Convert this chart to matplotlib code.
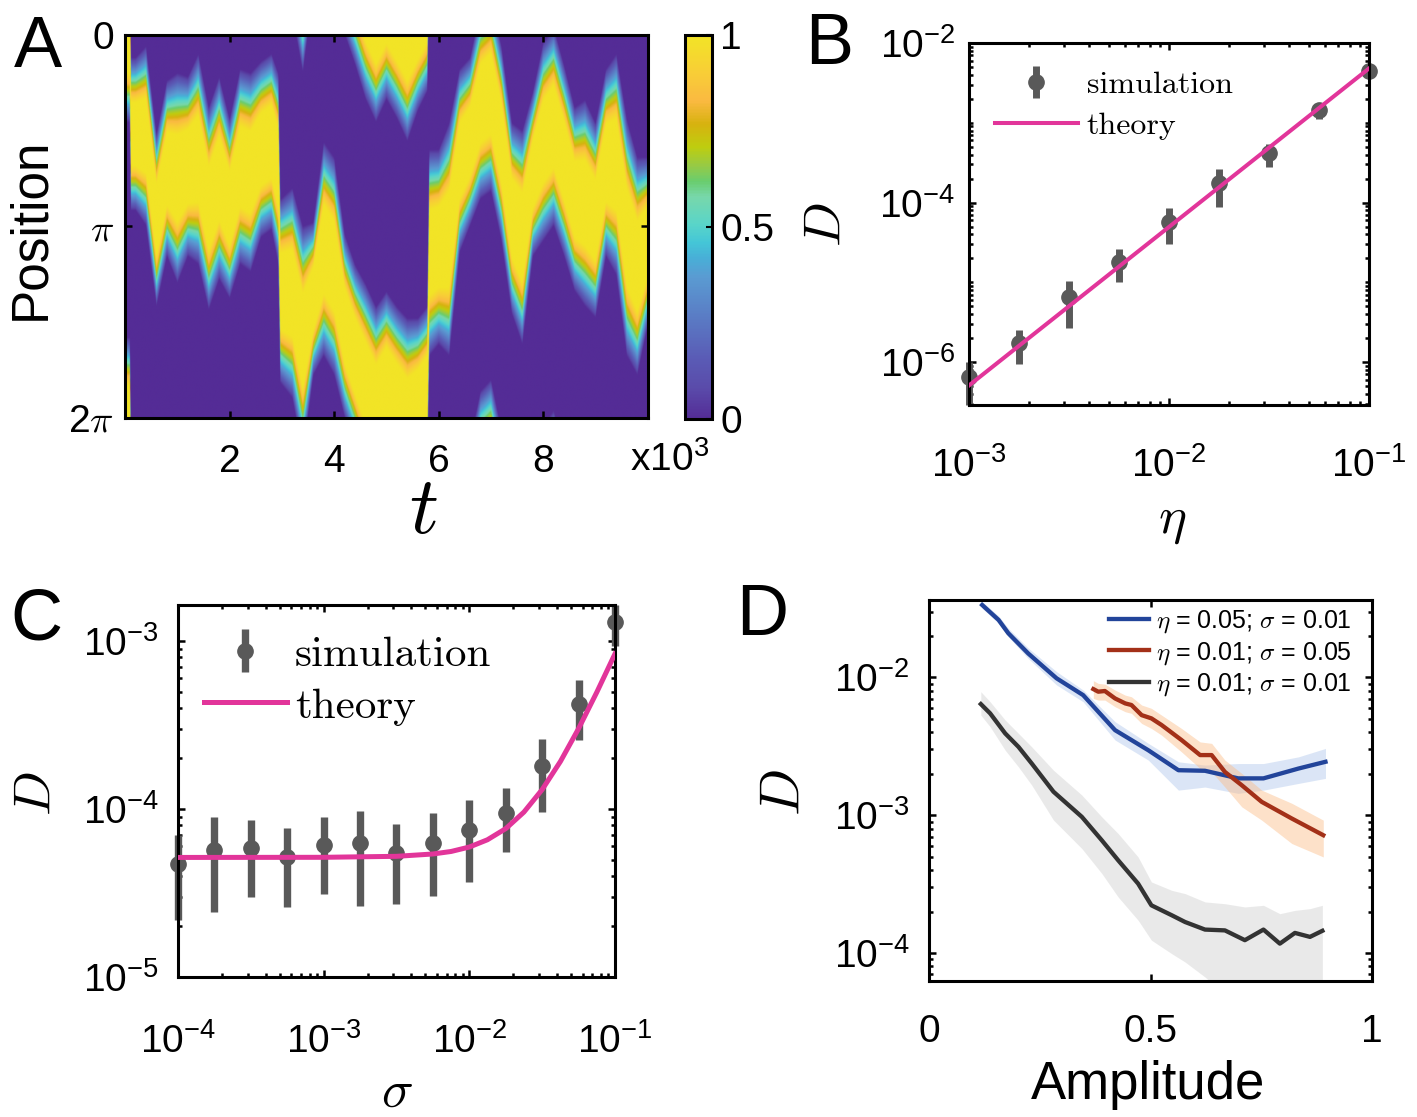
import numpy as np
import matplotlib
matplotlib.use('Agg')
import matplotlib.pyplot as plt
from matplotlib.colors import LinearSegmentedColormap
from matplotlib.ticker import FixedLocator, LogLocator, NullFormatter

plt.rcParams['font.family'] = ['Liberation Sans', 'DejaVu Sans']
plt.rcParams['font.size'] = 28

# ---------------- data ----------------
# panel A: edges of the activity bump (fraction of 2*pi, 0 at top) vs time (x10^3)
bump_t = [0.0, 0.09, 0.11, 0.2, 0.4, 0.6, 0.8, 1.0, 1.2, 1.4, 1.6, 1.8, 2.0, 2.2, 2.4,
          2.6, 2.8, 2.93, 2.97, 3.2, 3.4, 3.6, 3.8, 4.0, 4.2, 4.4, 4.6, 4.8, 5.0, 5.2,
          5.4, 5.6, 5.78, 5.82, 6.0, 6.2, 6.4, 6.6, 6.8, 7.0, 7.2, 7.4, 7.6, 7.8, 8.0,
          8.2, 8.4, 8.6, 8.8, 9.0, 9.2, 9.4, 9.6, 9.8, 10.0]
bump_top = [-0.21, -0.21, 0.06, 0.06, 0.03, 0.26, 0.12, 0.10, 0.11, 0.05, 0.19, 0.11, 0.22,
            0.09, 0.10, 0.07, 0.05, 0.10, 0.43, 0.40, 0.50, 0.49, 0.28, 0.32, 0.52, 0.60,
            0.65, 0.71, 0.67, 0.71, 0.74, 0.74, 0.71, 0.30, 0.30, 0.23, 0.09, 0.06, -0.07,
            -0.10, 0.03, 0.23, 0.25, 0.15, 0.02, -0.02, 0.08, 0.19, 0.17, 0.23, 0.09, 0.05,
            0.22, 0.32, 0.32]
bump_bot = [0.23, 0.23, 0.46, 0.46, 0.50, 0.71, 0.58, 0.65, 0.58, 0.60, 0.72, 0.64, 0.69,
            0.60, 0.62, 0.53, 0.51, 0.60, 0.91, 0.95, 1.10, 0.89, 0.84, 0.89, 1.00, 1.08,
            1.17, 1.23, 1.17, 1.22, 1.28, 1.20, 1.15, 0.84, 0.81, 0.84, 0.57, 0.50, 0.43,
            0.41, 0.54, 0.73, 0.81, 0.58, 0.54, 0.50, 0.58, 0.67, 0.71, 0.74, 0.58, 0.63,
            0.84, 0.89, 0.76]

# panel B
eta = [1e-3, 1.78e-3, 3.16e-3, 5.62e-3, 1e-2, 1.78e-2, 3.16e-2, 5.62e-2, 1e-1]
D_eta = [6.5e-7, 1.74e-6, 6.5e-6, 1.82e-5, 5.75e-5, 1.78e-4, 4.2e-4, 1.45e-3, 4.5e-3]
D_eta_hi = [1.0e-6, 2.5e-6, 1.05e-5, 2.6e-5, 8.5e-5, 2.6e-4, 5.4e-4, 1.7e-3, 5.0e-3]
D_eta_lo = [2.9e-7, 9.5e-7, 2.7e-6, 1.02e-5, 3.0e-5, 8.9e-5, 2.8e-4, 1.12e-3, 4.0e-3]
theory_eta = [1e-3, 1e-1]
theory_D_eta = [5.1e-7, 4.8e-3]

# panel C
sigma = [1e-4, 1.78e-4, 3.16e-4, 5.62e-4, 1e-3, 1.78e-3, 3.16e-3, 5.62e-3, 1e-2,
         1.78e-2, 3.16e-2, 5.62e-2, 1e-1]
D_sig = [4.68e-5, 5.71e-5, 5.85e-5, 5.15e-5, 6.07e-5, 6.24e-5, 5.47e-5, 6.24e-5,
         7.53e-5, 9.42e-5, 1.80e-4, 4.23e-4, 1.30e-3]
D_sig_hi = [7.03e-5, 8.99e-5, 8.57e-5, 7.71e-5, 8.91e-5, 9.68e-5, 8.13e-5, 9.42e-5,
            1.13e-4, 1.33e-4, 2.61e-4, 5.85e-4, 1.64e-3]
D_sig_lo = [2.19e-5, 2.43e-5, 3.00e-5, 2.61e-5, 3.13e-5, 2.65e-5, 2.72e-5, 3.04e-5,
            3.69e-5, 5.56e-5, 9.64e-5, 2.58e-4, 9.33e-4]
theory_sigma = [1e-4, 1e-3, 3.16e-3, 5.62e-3, 7.5e-3, 1e-2, 1.33e-2, 1.78e-2, 2.37e-2,
                3.16e-2, 4.22e-2, 5.62e-2, 7.5e-2, 1e-1]
theory_D_sig = [5.15e-5, 5.16e-5, 5.23e-5, 5.40e-5, 5.59e-5, 5.94e-5, 6.56e-5, 7.65e-5,
                9.59e-5, 1.305e-4, 1.92e-4, 3.01e-4, 4.96e-4, 8.4e-4]

# panel D
blue_amp = [0.120, 0.157, 0.179, 0.224, 0.288, 0.348, 0.420, 0.495, 0.563, 0.623, 0.698,
            0.755, 0.834, 0.895]
blue_D = [3.35e-2, 2.61e-2, 2.09e-2, 1.49e-2, 9.84e-3, 7.43e-3, 4.14e-3, 2.96e-3, 2.12e-3,
          2.10e-3, 1.85e-3, 1.85e-3, 2.18e-3, 2.44e-3]
blue_hi = [3.54e-2, 2.79e-2, 2.27e-2, 1.63e-2, 1.10e-2, 8.09e-3, 4.77e-3, 3.32e-3, 2.44e-3,
           2.31e-3, 2.37e-3, 2.37e-3, 2.65e-3, 3.05e-3]
blue_lo = [3.17e-2, 2.47e-2, 1.97e-2, 1.37e-2, 8.80e-3, 6.65e-3, 3.51e-3, 2.51e-3, 1.52e-3,
           1.60e-3, 1.44e-3, 1.52e-3, 1.70e-3, 1.85e-3]

red_amp = [0.371, 0.382, 0.397, 0.420, 0.443, 0.457, 0.480, 0.502, 0.525, 0.570, 0.612,
           0.638, 0.668, 0.706, 0.751, 0.819, 0.890]
red_D = [8.22e-3, 7.87e-3, 7.96e-3, 7.03e-3, 6.47e-3, 6.30e-3, 5.32e-3, 5.04e-3, 4.51e-3,
         3.51e-3, 2.73e-3, 2.73e-3, 2.06e-3, 1.65e-3, 1.25e-3, 9.46e-4, 7.16e-4]
red_hi = [9.46e-3, 9.04e-3, 8.93e-3, 8.09e-3, 7.43e-3, 7.23e-3, 6.30e-3, 5.96e-3, 5.32e-3,
          4.26e-3, 3.40e-3, 3.32e-3, 2.51e-3, 2.01e-3, 1.52e-3, 1.22e-3, 9.21e-4]
red_lo = [7.03e-3, 6.84e-3, 6.84e-3, 6.12e-3, 5.63e-3, 5.48e-3, 4.63e-3, 4.26e-3, 3.81e-3,
          2.88e-3, 2.18e-3, 2.06e-3, 1.60e-3, 1.15e-3, 9.21e-4, 6.23e-4, 4.98e-4]

black_amp = [0.117, 0.138, 0.172, 0.202, 0.232, 0.281, 0.345, 0.390, 0.427, 0.472, 0.502,
             0.548, 0.578, 0.623, 0.668, 0.713, 0.755, 0.792, 0.826, 0.860, 0.888]
black_D = [6.40e-3, 5.48e-3, 3.92e-3, 3.13e-3, 2.37e-3, 1.48e-3, 9.73e-4, 6.58e-4, 4.71e-4,
           3.19e-4, 2.22e-4, 1.88e-4, 1.68e-4, 1.48e-4, 1.46e-4, 1.24e-4, 1.48e-4, 1.17e-4,
           1.40e-4, 1.31e-4, 1.45e-4]
black_hi = [7.87e-3, 6.65e-3, 4.90e-3, 3.92e-3, 3.13e-3, 2.12e-3, 1.40e-3, 9.73e-4, 7.36e-4,
            4.98e-4, 3.28e-4, 2.85e-4, 2.70e-4, 2.35e-4, 2.28e-4, 2.16e-4, 2.22e-4, 1.93e-4,
            2.04e-4, 2.10e-4, 2.22e-4]
black_lo = [5.32e-3, 4.38e-3, 2.96e-3, 2.24e-3, 1.65e-3, 9.21e-4, 5.73e-4, 3.78e-4, 2.55e-4,
            1.73e-4, 1.24e-4, 9.89e-5, 8.61e-5, 6.70e-5, 5.0e-5, 5.0e-5, 5.0e-5, 5.0e-5,
            5.0e-5, 5.0e-5, 5.0e-5]

# parula-like colour map sampled from the colour bar
parula = LinearSegmentedColormap.from_list('parula_like', [
    (0.00, (84/255, 44/255, 150/255)), (0.08, (90/255, 75/255, 170/255)),
    (0.16, (90/255, 92/255, 182/255)), (0.27, (90/255, 125/255, 197/255)),
    (0.37, (90/255, 155/255, 210/255)), (0.42, (72/255, 175/255, 215/255)),
    (0.46, (68/255, 198/255, 215/255)), (0.51, (90/255, 213/255, 200/255)),
    (0.58, (120/255, 215/255, 170/255)), (0.62, (105/255, 205/255, 110/255)),
    (0.66, (150/255, 202/255, 70/255)), (0.71, (190/255, 205/255, 15/255)),
    (0.77, (215/255, 178/255, 15/255)), (0.83, (250/255, 185/255, 65/255)),
    (0.90, (248/255, 205/255, 55/255)), (1.00, (242/255, 228/255, 38/255))])

gray = '#595959'
pink = '#e2359a'

W, H = 1417, 1117
fig = plt.figure(figsize=(W/100, H/100), dpi=100)


def box(l, t, r, b):
    return [l/W, 1 - b/H, (r-l)/W, (b-t)/H]


def style(ax):
    for s in ax.spines.values():
        s.set_linewidth(2.2)
    ax.tick_params(which='both', direction='in', top=True, right=True, width=1.8)
    ax.tick_params(which='major', length=5)
    ax.tick_params(which='minor', length=3)


def unclip(eb):
    arts = [eb.lines[0]] + list(eb.lines[2])
    for art in arts:
        art.set_clip_on(False)


# ---------------- A ----------------
axA = fig.add_axes(box(125, 35, 648, 418))
tt = np.linspace(0, 10, 1400)
top = np.interp(tt, bump_t, bump_top)
bot = np.interp(tt, bump_t, bump_bot)
pp = np.linspace(0, 1, 500)
Z = np.zeros((pp.size, tt.size))
for shift in (-1, 0, 1):
    u = (pp[:, None] + shift - top[None, :]) / (bot - top)[None, :]
    inside = (u > 0) & (u < 1)
    prof = np.minimum(1.0, 1.25 * np.sin(np.pi * np.clip(u, 0, 1)))
    Z = np.maximum(Z, np.where(inside, prof, 0))
im = axA.imshow(Z, extent=[0, 10000, 2*np.pi, 0], aspect='auto', cmap=parula,
                vmin=0, vmax=1, interpolation='bilinear')
style(axA)
axA.tick_params(which='minor', length=0)
axA.set_xticks([2000, 4000, 6000, 8000])
axA.set_xticklabels(['2', '4', '6', '8'])
axA.set_yticks([0, np.pi, 2*np.pi])
axA.set_yticklabels(['0', r'$\pi$', r'2$\pi$'])
for lab in axA.get_yticklabels():
    lab.set_math_fontfamily('cm')
axA.tick_params(axis='x', pad=19)
axA.tick_params(axis='y', pad=8)
axA.set_ylabel('Position', fontsize=37, va='center')
axA.yaxis.set_label_coords(-0.180, 0.4935)
axA.set_xlabel(r'$t$', fontsize=58, math_fontfamily='cm', va='center')
axA.xaxis.set_label_coords(0.570, -0.245)
fig.text(630/W, 1 - 460/H, r'$\mathregular{x10^3}$', fontsize=28, va='center', ha='left')

cax = fig.add_axes(box(685, 35, 712, 419))
cb = fig.colorbar(im, cax=cax, ticks=[0, 0.5, 1])
cb.ax.set_yticklabels(['0', '0.5', '1'])
cb.outline.set_linewidth(2.2)
cax.tick_params(direction='in', length=4, width=1.5, pad=6)

# ---------------- B ----------------
axB = fig.add_axes(box(969, 43, 1369, 405))
ebB = axB.errorbar(eta, D_eta,
                   yerr=[np.array(D_eta) - np.array(D_eta_lo), np.array(D_eta_hi) - np.array(D_eta)],
                   fmt='o', color=gray, ms=11, elinewidth=5, capsize=0, zorder=2,
                   label='simulation')
unclip(ebB)
lnB, = axB.plot(theory_eta, theory_D_eta, color=pink, lw=2.9, zorder=3, label='theory')
axB.set_xscale('log')
axB.set_yscale('log')
axB.set_xlim(1e-3, 1e-1)
axB.set_ylim(2.9e-7, 1e-2)
style(axB)
axB.yaxis.set_major_locator(FixedLocator([1e-6, 1e-4, 1e-2]))
axB.yaxis.set_minor_locator(LogLocator(subs=np.arange(1, 10), numticks=30))
axB.yaxis.set_minor_formatter(NullFormatter())
axB.xaxis.set_major_locator(FixedLocator([1e-3, 1e-2, 1e-1]))
axB.xaxis.set_minor_locator(LogLocator(subs=np.arange(2, 10), numticks=30))
axB.xaxis.set_minor_formatter(NullFormatter())
axB.tick_params(axis='x', pad=30)
axB.tick_params(axis='y', pad=10)
axB.set_ylabel(r'$D$', fontsize=38, math_fontfamily='cm', va='center')
axB.yaxis.set_label_coords(-0.356, 0.497)
axB.set_xlabel(r'$\eta$', fontsize=38, math_fontfamily='cm', va='center')
axB.xaxis.set_label_coords(0.507, -0.32)
axB.legend(handles=[ebB, lnB], loc='upper left', bbox_to_anchor=(0.064, 0.924),
           frameon=False, prop={'family': 'cmr10', 'size': 23}, handlelength=2.6,
           handletextpad=0.28, labelspacing=0.40, borderpad=0, borderaxespad=0)

# ---------------- C ----------------
axC = fig.add_axes(box(178, 605, 615, 977))
ebC = axC.errorbar(sigma, D_sig,
                   yerr=[np.array(D_sig) - np.array(D_sig_lo), np.array(D_sig_hi) - np.array(D_sig)],
                   fmt='o', color=gray, ms=11, elinewidth=5.3, capsize=0, zorder=2,
                   label='simulation')
unclip(ebC)
lnC, = axC.plot(theory_sigma, theory_D_sig, color=pink, lw=3.6, zorder=3, label='theory')
axC.set_xscale('log')
axC.set_yscale('log')
axC.set_xlim(1e-4, 1e-1)
axC.set_ylim(1e-5, 1.64e-3)
style(axC)
axC.yaxis.set_major_locator(FixedLocator([1e-5, 1e-4, 1e-3]))
axC.yaxis.set_minor_locator(LogLocator(subs=np.arange(2, 10), numticks=30))
axC.yaxis.set_minor_formatter(NullFormatter())
axC.xaxis.set_major_locator(FixedLocator([1e-4, 1e-3, 1e-2, 1e-1]))
axC.xaxis.set_minor_locator(LogLocator(subs=np.arange(2, 10), numticks=30))
axC.xaxis.set_minor_formatter(NullFormatter())
axC.tick_params(axis='x', pad=33)
axC.tick_params(axis='y', pad=14)
axC.set_ylabel(r'$D$', fontsize=38, math_fontfamily='cm', va='center')
axC.yaxis.set_label_coords(-0.3236, 0.4915)
axC.set_xlabel(r'$\sigma$', fontsize=38, math_fontfamily='cm', va='center')
axC.xaxis.set_label_coords(0.50, -0.31)
axC.legend(handles=[ebC, lnC], loc='upper left', bbox_to_anchor=(0.059, 0.917),
           frameon=False, prop={'family': 'cmr10', 'size': 31}, handlelength=1.93,
           handletextpad=0.19, labelspacing=0.31, borderpad=0, borderaxespad=0)

# ---------------- D ----------------
axD = fig.add_axes(box(929, 600, 1372, 981))
axD.fill_between(blue_amp, blue_lo, blue_hi, color='#b8cdee', alpha=0.5, lw=0)
lb, = axD.plot(blue_amp, blue_D, color='#22449a', lw=3.1,
               label=r'$\eta$ = 0.05; $\sigma$ = 0.01')
axD.fill_between(red_amp, red_lo, red_hi, color='#fbbd88', alpha=0.45, lw=0)
lr, = axD.plot(red_amp, red_D, color='#a33018', lw=3.1,
               label=r'$\eta$ = 0.01; $\sigma$ = 0.05')
axD.fill_between(black_amp, black_lo, black_hi, color='#d0d0d0', alpha=0.45, lw=0)
lk, = axD.plot(black_amp, black_D, color='#333333', lw=3.1,
               label=r'$\eta$ = 0.01; $\sigma$ = 0.01')
axD.set_yscale('log')
axD.set_xlim(0, 1)
axD.set_ylim(6.27e-5, 3.64e-2)
style(axD)
axD.yaxis.set_major_locator(FixedLocator([1e-4, 1e-3, 1e-2]))
axD.yaxis.set_minor_locator(LogLocator(subs=np.arange(2, 10), numticks=30))
axD.yaxis.set_minor_formatter(NullFormatter())
axD.set_xticks([0, 0.5, 1])
axD.set_xticklabels(['0', '0.5', '1'])
axD.tick_params(axis='x', pad=24)
axD.tick_params(axis='y', pad=14)
axD.set_ylabel(r'$D$', fontsize=40, math_fontfamily='cm', va='center')
axD.yaxis.set_label_coords(-0.323, 0.493)
axD.set_xlabel('Amplitude', fontsize=38, va='center')
axD.xaxis.set_label_coords(0.495, -0.274)
legD = axD.legend(handles=[lb, lr, lk], loc='upper right', bbox_to_anchor=(0.955, 0.979),
                  frameon=False, fontsize=18, handlelength=1.6, handletextpad=0.28,
                  labelspacing=0.2, borderpad=0, borderaxespad=0)
for txt in legD.get_texts():
    txt.set_math_fontfamily('cm')

# panel letters
for letter, x, y in [('A', 14, 67), ('B', 805, 64), ('C', 10, 640), ('D', 736, 635)]:
    fig.text(x/W, 1 - y/H, letter, fontsize=52, ha='left', va='baseline')

fig.savefig('out.png', dpi=100)
